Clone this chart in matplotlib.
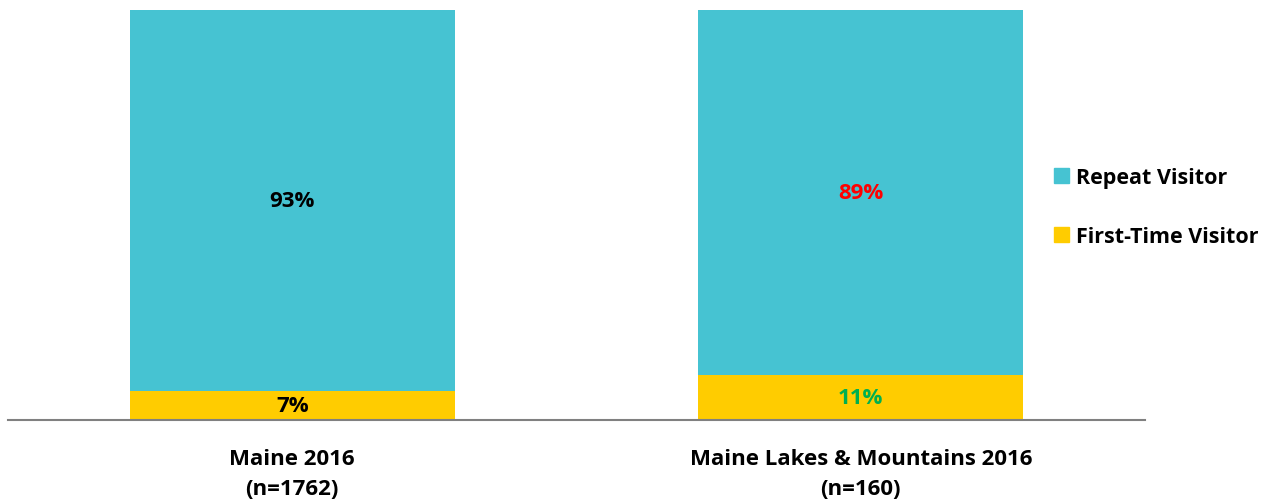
import matplotlib.pyplot as plt
from matplotlib.patches import Patch

plt.rcParams['font.family'] = ['Open Sans', 'DejaVu Sans']
plt.rcParams['font.weight'] = 'bold'

categories = ['Maine 2016\n(n=1762)', 'Maine Lakes & Mountains 2016\n(n=160)']
first_time = [7, 11]
repeat = [93, 89]
first_label_colors = ['black', '#00B050']
repeat_label_colors = ['black', '#FF0000']

teal = '#46C3D2'
gold = '#FFCC00'
fs = 16

fig = plt.figure(figsize=(12.68, 5.02), dpi=100)
ax = fig.add_axes([8 / 1268, 81 / 502, 1137 / 1268, 410 / 502])

x = range(len(categories))
ax.bar(x, first_time, width=0.572, color=gold)
ax.bar(x, repeat, width=0.572, bottom=first_time, color=teal)

for i in x:
    ax.text(i, first_time[i] / 2, f'{first_time[i]}%', ha='center', va='center',
            fontsize=fs, fontweight='bold', color=first_label_colors[i])
    ax.text(i, first_time[i] + repeat[i] / 2, f'{repeat[i]}%', ha='center', va='center',
            fontsize=fs, fontweight='bold', color=repeat_label_colors[i])

ax.set_xlim(-0.5, 1.5)
ax.set_ylim(0, 100)
ax.set_xticks(list(x))
ax.set_xticklabels(categories, fontsize=fs, fontweight='bold', linespacing=1.6)
ax.tick_params(axis='x', length=0, pad=20)
ax.set_yticks([])
for s in ['top', 'right', 'left']:
    ax.spines[s].set_visible(False)
ax.spines['bottom'].set_color('#808080')
ax.spines['bottom'].set_linewidth(1.5)

handles = [Patch(color=teal, label='Repeat Visitor'),
           Patch(color=gold, label='First-Time Visitor')]
fig.legend(handles=handles, loc='center left', bbox_to_anchor=(1035 / 1268, 1 - 208 / 502),
           frameon=False, handlelength=0.7, handleheight=0.7,
           handletextpad=0.3, labelspacing=1.8, prop={'weight': 'bold', 'size': 15.5})

fig.savefig('out.png', dpi=100)
